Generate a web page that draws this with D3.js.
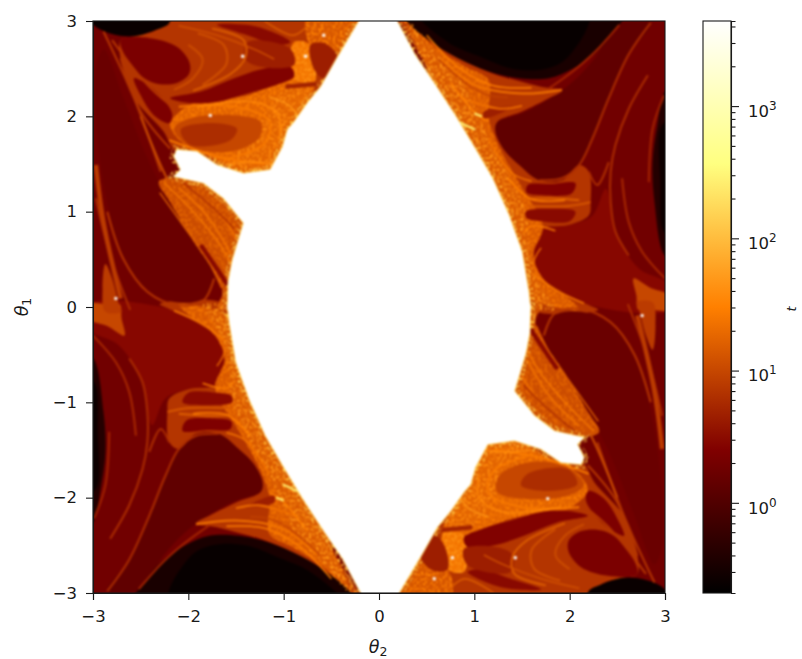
<!DOCTYPE html>
<html><head><meta charset="utf-8">
<script src="https://cdn.jsdelivr.net/npm/d3@7/dist/d3.min.js"></script>
<style>
html,body{margin:0;padding:0;background:#fff;overflow:hidden}
text{font-family:"DejaVu Sans",sans-serif;fill:#1a1a1a}
</style></head><body><svg id="c" width="802" height="659"></svg>
<script>
// ---------- values: [theta2, theta1] outlines, t colour values ----------
const xTicks=[-3,-2,-1,0,1,2,3], yTicks=[-3,-2,-1,0,1,2,3];
const cbMajor=[1,10,100,1000];
const cbMinor=[0.3,0.4,0.5,0.6,0.7,0.8,0.9,2,3,4,5,6,7,8,9,20,30,40,50,60,70,80,90,200,300,400,500,600,700,800,900,2000,3000,4000];
const tMin=0.208, tMax=4400, baseT=1.9;

const whiteHalf=[[-0.21,3.05],[-0.21,3.0],[-0.44,2.61],[-0.61,2.31],[-0.75,2.14],[-0.89,1.94],[-0.96,1.86],[-1.01,1.68],[-1.14,1.44],[-1.42,1.40],[-1.70,1.49],[-1.91,1.63],[-2.12,1.65],[-2.15,1.58],[-2.08,1.44],[-2.15,1.37],[-1.84,1.30],[-1.63,1.14],[-1.42,0.88],[-1.49,0.65],[-1.54,0.48],[-1.58,0.27],[-1.59,-0.03],[1.59,-0.03],[1.57,0.16],[1.50,0.58],[1.36,0.97],[1.19,1.35],[1.01,1.66],[0.80,2.01],[0.59,2.33],[0.38,2.64],[0.19,3.0],[0.19,3.05]];

const blackTopR=[[0.28,3.1],[0.28,3.02],[0.59,2.75],[0.91,2.57],[1.22,2.45],[1.47,2.40],[1.78,2.40],[2.03,2.50],[2.27,2.66],[2.52,2.96],[2.6,3.1]];
const blackTopCore=[[0.4,3.1],[0.72,2.78],[1.05,2.63],[1.4,2.5],[1.75,2.5],[1.98,2.62],[2.2,3.1]];
const blackRight=[[3.1,2.3],[3.0,2.26],[2.92,1.91],[2.87,1.52],[2.89,1.10],[3.0,0.54],[3.1,0.54]];
const blackRightCore=[[3.1,1.95],[2.97,1.91],[2.95,1.31],[2.99,0.79],[3.1,0.79]];
const blackTopL=[[-3.1,3.1],[-2.2,3.1],[-2.2,2.98],[-2.33,2.91],[-2.57,2.84],[-2.82,2.87],[-3.0,2.96]];
const lowerR=[[1.71,0.82],[1.99,0.86],[2.24,0.96],[2.38,1.24],[2.48,0.79],[2.73,0.40],[3.05,0.23],[3.05,-0.03],[2.2,0.02],[1.92,0.16],[1.68,0.33],[1.6,0.51],[1.61,0.68]];
const pocketR1=[[1.24,1.94],[1.50,2.03],[1.78,2.18],[2.03,2.36],[2.27,2.62],[2.52,2.98],[2.85,2.98],[2.62,2.65],[2.41,2.19],[2.24,1.77],[2.10,1.49],[1.92,1.35],[1.68,1.33],[1.47,1.49],[1.31,1.65],[1.22,1.84]];
const bandR=[[0.2,3.05],[0.30,3.0],[0.59,2.75],[0.91,2.57],[1.22,2.44],[1.47,2.37],[1.70,2.31],[1.92,2.27],[1.78,2.19],[1.50,2.05],[1.24,1.94],[1.22,1.84],[1.31,1.65],[1.47,1.49],[1.68,1.33],[1.92,1.33],[2.10,1.49],[2.20,1.42],[2.22,1.10],[2.20,0.96],[1.99,0.86],[1.71,0.82],[1.61,0.68],[1.6,0.51],[1.68,0.33],[1.92,0.16],[2.2,0.02],[2.3,-0.03],[1.59,-0.03],[1.2,0.5],[0.8,2.0]];
const midR=[[0.3,3.0],[0.59,2.72],[0.91,2.52],[1.15,2.38],[1.15,1.98],[1.3,1.6],[1.5,1.25],[1.72,0.85],[1.62,0.55],[1.72,0.3],[2.0,0.08],[2.1,-0.03],[1.2,0.3],[0.5,2.5]];
const brightR=[[0.15,3.05],[0.3,3.0],[0.55,2.72],[0.85,2.42],[1.02,2.05],[1.2,1.66],[1.4,1.31],[1.55,0.96],[1.58,0.61],[1.68,0.26],[1.85,-0.03],[1.2,0.2],[0.8,1.5],[0.15,2.9]];
const pocketR2=[[1.56,1.28],[1.8,1.29],[2.06,1.30],[2.02,1.19],[1.75,1.17],[1.55,1.2]];
const pocketR3=[[1.54,1.0],[1.8,1.03],[2.06,1.0],[2.0,0.9],[1.7,0.9],[1.55,0.93]];
const pocketR4=[[1.1,2.05],[1.4,2.1],[1.1,1.98]];
const patchR=[[2.67,0.3],[2.85,0.2],[3.05,0.12],[3.05,-0.03],[2.85,-0.03],[2.72,-0.03],[2.7,0.12]];

const massL=[[-2.22,3.05],[-0.15,3.05],[-0.9,1.5],[-1.4,1.3],[-1.9,1.55],[-2.15,1.65],[-2.26,1.84],[-2.57,2.19],[-2.68,2.47],[-2.71,2.80],[-2.57,2.84],[-2.33,2.91]];
const tearL=[[-2.89,2.7],[-2.68,2.19],[-2.43,1.56],[-2.19,1.1],[-1.91,0.65],[-1.73,0.3],[-1.84,0.09],[-2.12,0.05],[-2.43,0.19],[-2.68,0.54],[-2.82,0.96],[-2.92,1.49],[-2.97,2.01],[-2.97,2.5]];
const stripL=[[-2.87,0.45],[-2.8,0.3],[-2.72,0.0],[-2.7,-0.05],[-2.87,-0.05],[-2.9,0.2]];
const wingL=[[-2.22,1.35],[-1.84,1.30],[-1.63,1.14],[-1.42,0.88],[-1.47,0.65],[-1.56,0.40],[-1.57,0.12],[-1.61,-0.03],[-1.70,-0.03],[-1.64,0.16],[-1.73,0.37],[-1.94,0.68],[-2.19,1.1],[-2.31,1.31]];
const brightMassL=[[-1.98,2.12],[-1.38,2.22],[-0.89,2.40],[-0.68,2.35],[-0.75,2.14],[-0.96,1.86],[-1.01,1.68],[-1.14,1.44],[-1.42,1.40],[-1.80,1.59],[-1.98,1.66],[-2.19,1.91]];
const speckMassL=[[-1.25,1.95],[-0.9,2.35],[-0.72,2.3],[-0.85,2.0],[-0.98,1.8],[-1.02,1.62],[-1.16,1.43],[-1.42,1.40],[-1.5,1.55]];
const swirlL=[[-2.15,1.87],[-1.98,1.98],[-1.49,2.01],[-1.24,1.94],[-1.26,1.77],[-1.56,1.63],[-1.98,1.68]];
const swirlCoreL=[[-2.08,1.86],[-1.77,1.93],[-1.49,1.87],[-1.56,1.75],[-1.98,1.70]];
const brightUpL=[[-0.89,2.78],[-0.72,2.75],[-0.68,2.35],[-0.89,2.40],[-0.93,2.61]];
const topEdgeL=[[-0.75,3.05],[-0.15,3.05],[-0.44,2.61],[-0.72,2.75]];
const pocketD=[[-0.72,2.75],[-0.58,2.77],[-0.44,2.63],[-0.58,2.40],[-0.68,2.49]];
const pocketA=[[-2.71,2.80],[-2.40,2.82],[-2.12,2.73],[-1.99,2.57],[-1.99,2.45],[-2.12,2.35],[-2.36,2.35],[-2.57,2.50]];
const pocketB=[[-2.19,2.19],[-1.87,2.26],[-1.52,2.40],[-1.21,2.50],[-0.93,2.52],[-0.89,2.42],[-1.07,2.33],[-1.38,2.24],[-1.70,2.15],[-1.98,2.14]];
const pocketC=[[-1.70,2.96],[-1.28,2.94],[-0.93,2.78],[-1.07,2.75],[-1.38,2.85]];
const pocketF=[[-2.57,2.40],[-2.36,2.28],[-2.17,2.03],[-2.20,1.93],[-2.36,2.01],[-2.50,2.22]];
const pocketG=[[-1.38,2.78],[-0.93,2.71],[-0.89,2.54],[-1.24,2.52],[-1.4,2.6]];

const underRegions=[lowerR,pocketR1,bandR,midR,patchR,blackRight,blackRightCore,blackTopR,blackTopCore,massL,blackTopL,tearL,stripL,wingL,brightMassL,topEdgeL,brightUpL];
const underT=[2.9,1.35,7,14,10,0.42,0.27,0.34,0.24,7,0.25,1.65,8,11,17,13,24];
const overRegions=[pocketR2,pocketR3,pocketR4,swirlL,swirlCoreL,pocketD,pocketA,pocketB,pocketC,pocketF,pocketG];
const overT=[2.5,3,4.5,10,6,4.5,2.3,2.6,3,2.4,4.5];

const speckleRegions=[midR,brightMassL,wingL,brightR,speckMassL,brightUpL,topEdgeL];
const speckleT=[24,28,19,45,38,45,32];

const thinLines=[
 [[2.85,2.98],[2.62,2.65],[2.41,2.19],[2.24,1.77],[2.10,1.49],[1.92,1.35],[1.68,1.33]],
 [[2.82,2.43],[2.62,2.08],[2.48,1.70],[2.43,1.42],[2.43,1.10],[2.48,0.79],[2.62,0.54]],
 [[2.55,1.35],[2.62,0.89],[2.76,0.58],[3.0,0.30]],
 [[2.99,2.22],[2.87,1.87],[2.83,1.31]],
 [[2.52,2.96],[2.27,2.68],[2.03,2.47],[1.78,2.29]],
 [[2.20,1.42],[2.29,1.28],[2.41,1.52]],
 [[2.22,1.10],[1.99,1.06],[1.55,1.06]],
 [[-2.89,2.89],[-2.57,2.19],[-2.29,1.42]],
 [[-2.71,2.61],[-2.50,2.05],[-2.19,1.66]],
 [[-2.97,1.14],[-2.82,0.54],[-2.61,-0.03]],
 [[-2.80,2.80],[-2.40,2.30],[-2.10,2.05]],
 [[-2.0,2.75],[-1.85,2.6],[-1.95,2.4],[-2.15,2.28]],
 [[-1.9,2.87],[-1.63,2.75],[-1.6,2.55],[-1.85,2.33]],
 [[-1.75,2.92],[-1.42,2.8],[-1.4,2.62],[-1.55,2.45],[-1.95,2.27]],
 [[-2.5,2.0],[-2.2,1.3],[-1.87,0.78],[-1.62,0.32]],
 [[0.65,2.6],[1.0,2.33],[1.5,2.24],[1.92,2.28]],
 [[0.85,2.2],[1.26,2.08],[1.5,2.11]],
 [[1.5,1.13],[1.8,1.14],[2.1,1.12]],
 [[-2.1,1.25],[-1.8,0.95],[-1.55,0.55]],
 [[-1.95,1.22],[-1.65,0.95],[-1.5,0.72]],
 [[-2.2,1.75],[-1.7,1.58],[-1.2,1.5]],
 [[-2.1,2.1],[-1.5,2.1],[-1.15,1.95],[-1.2,1.72],[-1.6,1.55]],
 [[-1.73,0.3],[-1.84,0.07],[-2.12,0.02],[-2.43,0.16],[-2.68,0.5],[-2.85,1.0]],
];
const thinT=[6,6,5.5,5,5,6,14,7,7,6,7,11,12,15,11,24,22,16,22,22,28,26,7];

const fineLines=[
 [[0.5,2.85],[0.85,2.5],[1.2,2.32],[1.6,2.3]],
 [[0.62,2.6],[0.95,2.32],[1.15,2.22],[1.35,2.2]],
 [[0.75,2.35],[0.95,2.1],[1.05,2.0],[1.15,1.95]],
 [[1.15,1.75],[1.4,1.4],[1.6,1.32]],
 [[1.35,1.35],[1.6,1.13],[1.95,1.12]],
 [[1.52,0.78],[1.6,0.85],[1.85,0.8]],
 [[1.62,0.35],[1.85,0.18],[2.15,0.04]],
 [[1.7,0.62],[1.62,0.45],[1.72,0.28]],
 [[-2.25,1.3],[-1.95,1.0],[-1.7,0.7],[-1.55,0.45]],
 [[-2.05,1.3],[-1.75,1.05],[-1.52,0.82]],
 [[-2.3,1.2],[-2.05,0.85],[-1.8,0.5],[-1.65,0.2]],
 [[-1.15,2.2],[-0.95,2.12],[-0.85,2.0]],
 [[-1.9,2.1],[-1.3,2.15],[-1.05,2.0],[-1.05,1.75]],
 [[-1.6,1.5],[-1.3,1.52],[-1.1,1.5]],
 [[-2.1,2.95],[-1.7,2.85],[-1.3,2.7],[-1.1,2.6]],
 [[-1.2,3.0],[-0.9,2.85],[-0.75,2.95]],
];
const fineT=[30,9,32,26,30,28,26,20,25,6,16,45,35,38,12,16];

const wideLines=[
 [[-2.97,1.49],[-2.89,0.89],[-2.71,0.09]],
 [[-1.87,0.65],[-1.70,0.40],[-1.59,0.23]],
 [[-0.98,2.31],[-0.66,2.34]],
];
const wideT=[8,3,5];

const hotLines=[[[0.84,1.94],[1.01,1.86]],[[1.0,2.03],[1.08,2.0]]];
const hotT=[300,300];
const dots=[[-1.77,2.01],[-1.43,2.63],[-0.77,2.63],[-0.58,2.85],[-2.76,0.09]];
const rimT=110;

// ---------- drawing ----------
const W=802,H=659, L=93,R=665,T=21,B=593, cbL=703,cbR=731;
const x=d3.scaleLinear().domain([-3,3]).range([L,R]);
const y=d3.scaleLinear().domain([-3,3]).range([B,T]);
const tScale=d3.scaleLog().domain([tMin,tMax]).range([0,1]).clamp(true);
const cl=v=>Math.max(0,Math.min(1,v));
const afmhot=u=>d3.rgb(255*cl(2*u),255*cl(2*u-0.5),255*cl(2*u-1))+"";
const col=t=>afmhot(tScale(t));
const flip=p=>p.map(([a,b])=>[-a,-b]);
const both=(p)=>[p,flip(p)];
const smooth=d3.line().x(d=>x(d[0])).y(d=>y(d[1])).curve(d3.curveCatmullRomClosed.alpha(0.5));
const sharp=d3.line().x(d=>x(d[0])).y(d=>y(d[1])).curve(d3.curveLinearClosed);
const open=d3.line().x(d=>x(d[0])).y(d=>y(d[1])).curve(d3.curveCatmullRom.alpha(0.5));

const svg=d3.select("#c");
const defs=svg.append("defs");
defs.append("clipPath").attr("id","plot").append("rect").attr("x",L).attr("y",T).attr("width",R-L).attr("height",B-T);
const bl=defs.append("filter").attr("id","soft").attr("color-interpolation-filters","sRGB").attr("filterUnits","userSpaceOnUse").attr("x",L-10).attr("y",T-10).attr("width",R-L+20).attr("height",B-T+20);
bl.append("feGaussianBlur").attr("stdDeviation",0.9);
const sp=defs.append("filter").attr("id","speckle").attr("color-interpolation-filters","sRGB").attr("filterUnits","userSpaceOnUse").attr("x",L).attr("y",T).attr("width",R-L).attr("height",B-T);
sp.append("feTurbulence").attr("type","fractalNoise").attr("baseFrequency",0.42).attr("numOctaves",2).attr("seed",4).attr("result","n");
sp.append("feColorMatrix").attr("in","n").attr("type","matrix").attr("values","0 0 0 0 0  0 0 0 0 0  0 0 0 0 0  0 0 0 9 -4.6").attr("result","m");
sp.append("feComposite").attr("in","SourceGraphic").attr("in2","m").attr("operator","in");

const clip=svg.append("g").attr("clip-path","url(#plot)");
const heat=clip.append("g").attr("filter","url(#soft)");
heat.append("rect").attr("x",x(-3)-10).attr("y",y(3)-10).attr("width",R-L+20).attr("height",B-T+20).attr("fill",col(baseT));

underRegions.forEach((p,i)=>both(p).forEach(q=>heat.append("path").attr("d",smooth(q)).attr("fill",col(underT[i]))));
const spk=heat.append("g").attr("filter","url(#speckle)");
speckleRegions.forEach((p,i)=>both(p).forEach(q=>spk.append("path").attr("d",smooth(q)).attr("fill",col(speckleT[i]))));
both(whiteHalf).forEach(q=>spk.append("path").attr("d",sharp(q)).attr("fill","none").attr("stroke",col(rimT)).attr("stroke-width",9));
overRegions.forEach((p,i)=>both(p).forEach(q=>heat.append("path").attr("d",smooth(q)).attr("fill",col(overT[i]))));
const strokes=(list,vals,w)=>list.forEach((p,i)=>both(p).forEach(q=>heat.append("path").attr("d",open(q)).attr("fill","none").attr("stroke",col(vals[i])).attr("stroke-width",w)));
strokes(thinLines,thinT,2);
strokes(fineLines,fineT,1.5);
strokes(wideLines,wideT,4.5);
strokes(hotLines,hotT,2);
dots.forEach(d=>both([d]).forEach(q=>heat.append("circle").attr("cx",x(q[0][0])).attr("cy",y(q[0][1])).attr("r",1.7).attr("fill",col(tMax))));
both(whiteHalf).forEach(q=>heat.append("path").attr("d",sharp(q)).attr("fill",col(tMax)).attr("stroke",col(150)).attr("stroke-width",1.6));
both(whiteHalf).forEach(q=>heat.append("path").attr("d",sharp(q)).attr("fill",col(tMax)).attr("stroke","none"));

// axes
const style=g=>{g.selectAll("text").attr("font-size",16.5).attr("fill","#1a1a1a");
 g.selectAll("line").attr("stroke","#1a1a1a").attr("stroke-width",1.1);g.select(".domain").attr("stroke","#1a1a1a").attr("stroke-width",1.1);};
svg.append("g").attr("transform",`translate(0,${B})`).call(d3.axisBottom(x).tickValues(xTicks).tickSize(7).tickPadding(10).tickFormat(d3.format("d"))).call(style);
svg.append("g").attr("transform",`translate(${L},0)`).call(d3.axisLeft(y).tickValues(yTicks).tickSize(7).tickPadding(9).tickFormat(d3.format("d"))).call(style);
svg.append("rect").attr("x",L).attr("y",T).attr("width",R-L).attr("height",B-T).attr("fill","none").attr("stroke","#1a1a1a").attr("stroke-width",1.1);

function thetaLabel(g,sub){
 g.attr("font-size",17.5).attr("font-style","italic").text("θ");
 g.append("tspan").attr("font-size",12.5).attr("font-style","normal").attr("dy",3).text(sub);
}
svg.append("text").attr("x",378).attr("y",653).attr("text-anchor","middle").call(thetaLabel,"2");
svg.append("text").attr("transform",`translate(28,${(T+B)/2}) rotate(-90)`).attr("text-anchor","middle").call(thetaLabel,"1");

// colorbar
const cbY=d3.scaleLog().domain([tMin,tMax]).range([B,T]);
const grad=defs.append("linearGradient").attr("id","cb").attr("x1",0).attr("x2",0).attr("y1",1).attr("y2",0);
d3.range(0,1.0001,1/32).forEach(u=>grad.append("stop").attr("offset",u).attr("stop-color",afmhot(u)));
svg.append("rect").attr("x",cbL).attr("y",T).attr("width",cbR-cbL).attr("height",B-T).attr("fill","url(#cb)");
const cbAx=svg.append("g").attr("transform",`translate(${cbR},0)`);
cbAx.call(d3.axisRight(cbY).tickValues(cbMinor).tickSize(4.5).tickFormat("")).call(style);
const cbM=svg.append("g").attr("transform",`translate(${cbR},0)`);
cbM.call(d3.axisRight(cbY).tickValues(cbMajor).tickSize(8).tickPadding(9).tickFormat("")).call(style);
cbM.select(".domain").remove();
cbM.selectAll(".tick text").each(function(d){
 const t=d3.select(this).attr("font-size",16.5).attr("dy","0.62em").attr("x",17);
 t.append("tspan").text("10");
 t.append("tspan").attr("font-size",12).attr("dy",-7).text(Math.round(Math.log10(d)));
});
svg.append("rect").attr("x",cbL).attr("y",T).attr("width",cbR-cbL).attr("height",B-T).attr("fill","none").attr("stroke","#1a1a1a").attr("stroke-width",1.1);
svg.append("text").attr("transform",`translate(796,${(T+B)/2+2}) rotate(-90)`).attr("text-anchor","middle").attr("font-size",13).attr("font-style","italic").text("t");
</script></body></html>
